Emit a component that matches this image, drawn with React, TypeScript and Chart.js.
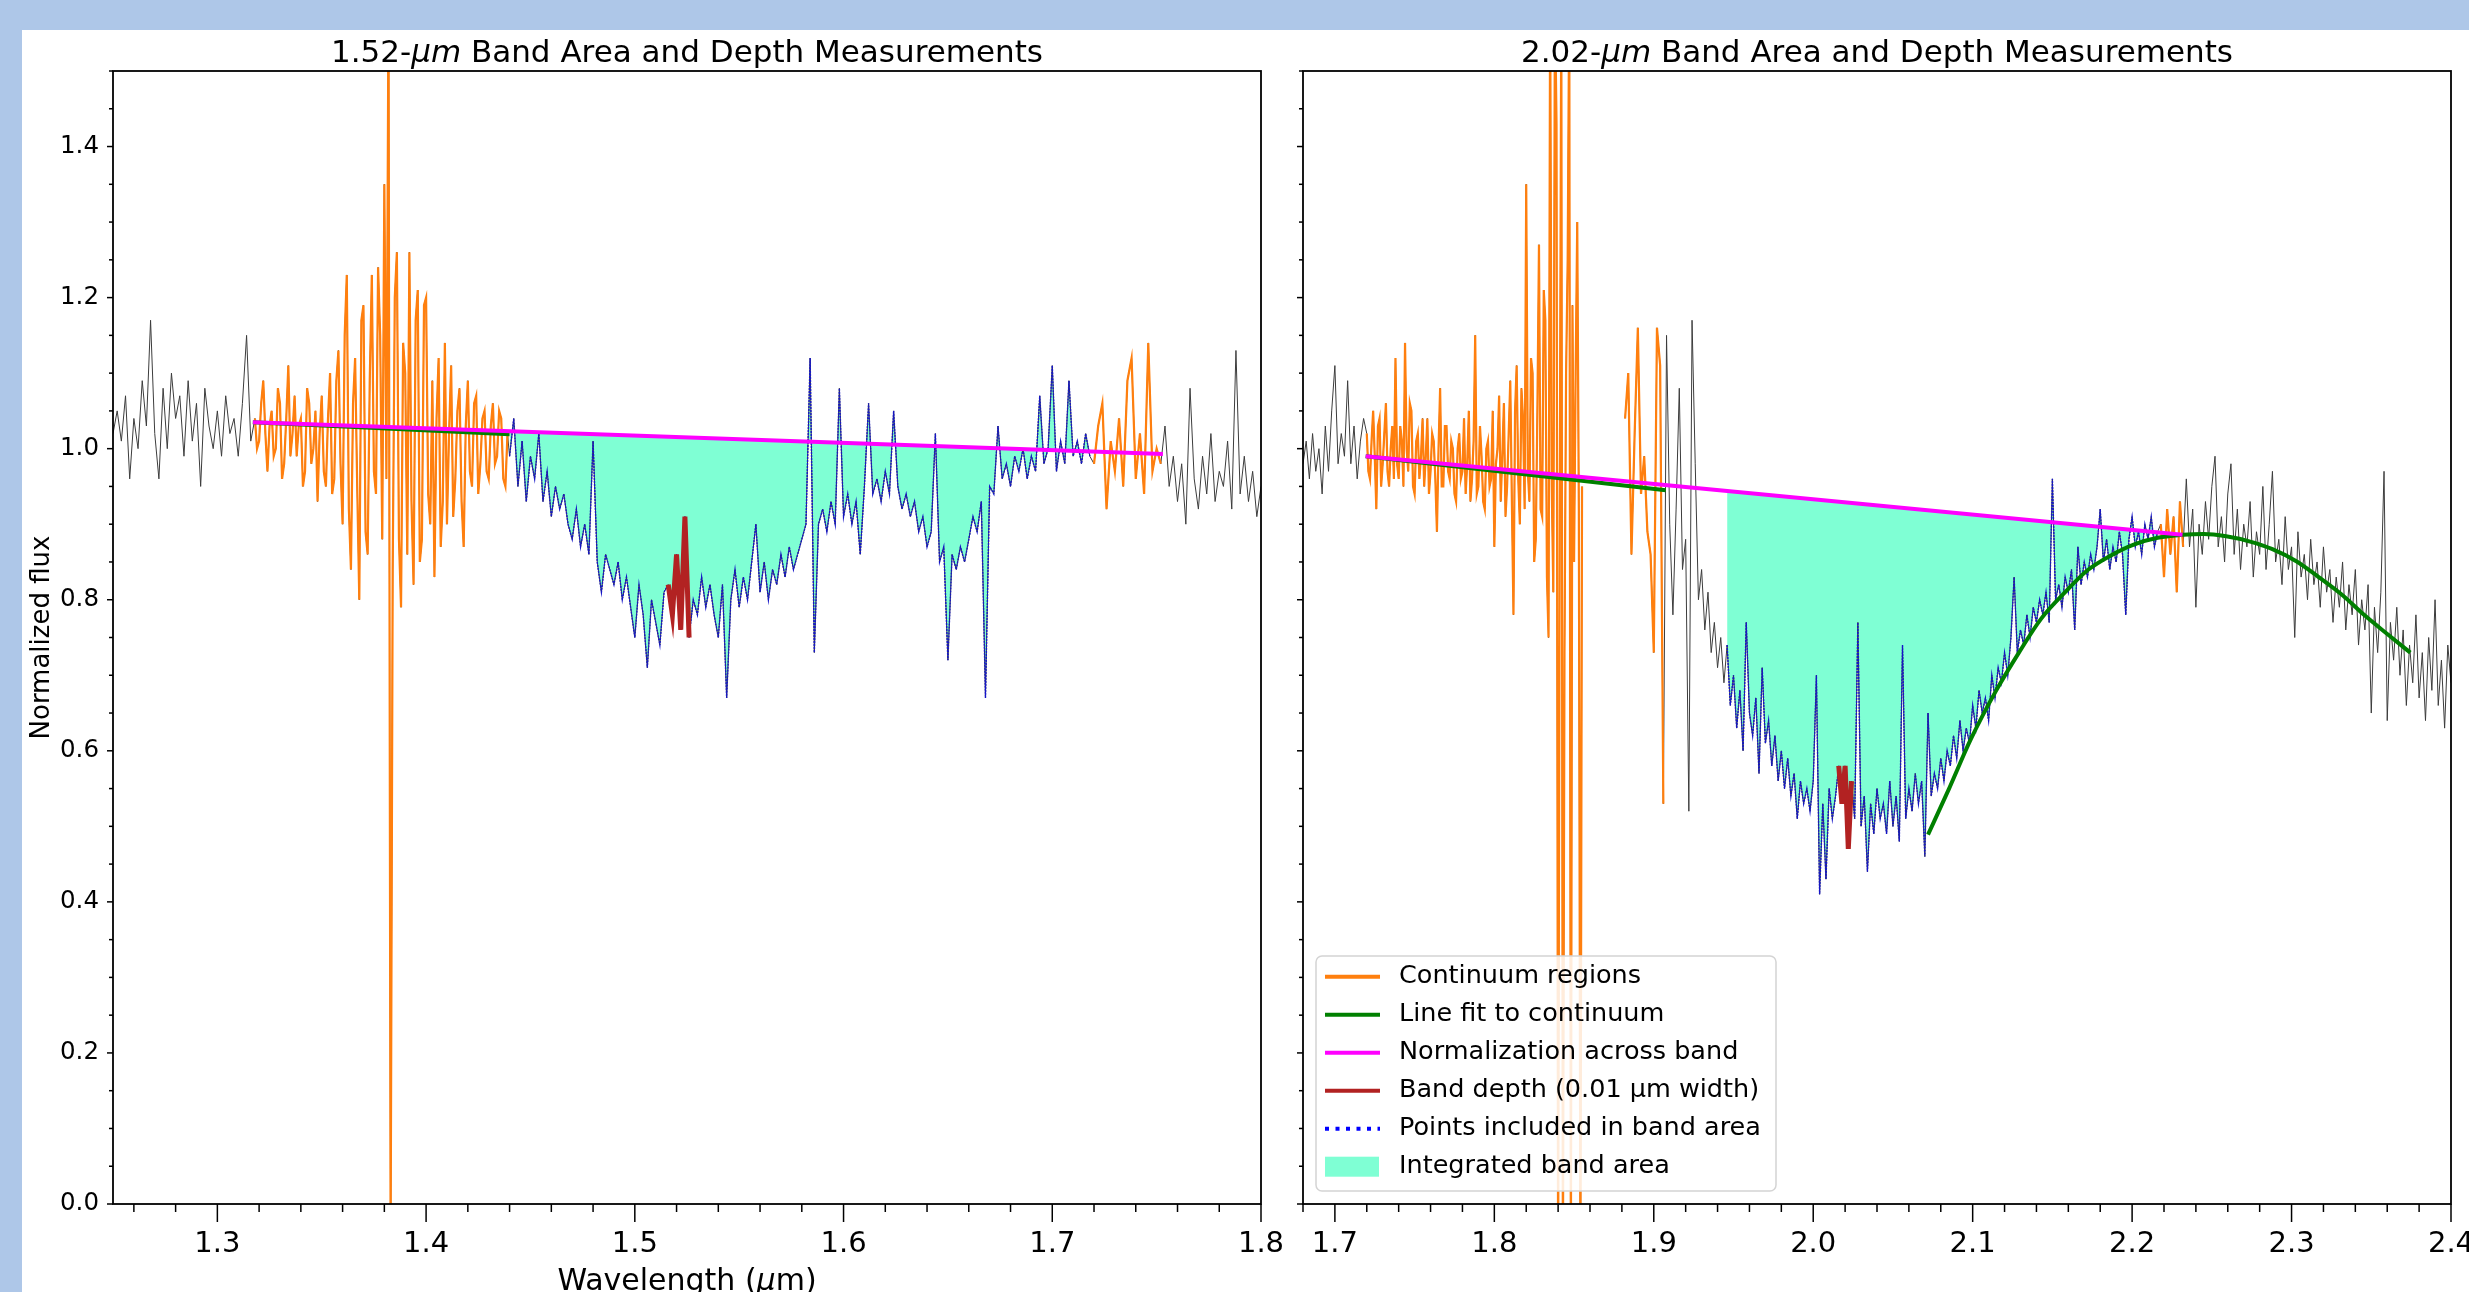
import React, { useEffect, useRef } from 'react';
import { Chart, registerables } from 'chart.js';

Chart.register(...registerables);

const FONT = '"DejaVu Sans", "Liberation Sans", sans-serif';
const STEP = 0.002;
const FINE = 0.001;
const Y_MIN = 0;
const Y_MAX = 1.5;

// ---------------- Left panel: 1.52-um band ----------------
const leftXMin = 1.25;
const leftXMax = 1.8;
const leftXTicks = [1.3, 1.4, 1.5, 1.6, 1.7, 1.8];
const leftTitle = ['1.52-', 'μm', ' Band Area and Depth Measurements'];

const leftGrayAStart = 1.25;
const leftGrayA = [
  1.02, 1.05, 1.01, 1.07, 0.96, 1.04, 1.0, 1.09, 1.03, 1.17,
  1.02, 0.96, 1.08, 1.0, 1.1, 1.04, 1.07, 0.99, 1.09, 1.01,
  1.06, 0.95, 1.08, 1.03, 1.0, 1.05, 0.99, 1.07, 1.02, 1.04,
  0.99, 1.06, 1.15, 1.01,
];
// sampled every 0.001 um
const leftContAStart = 1.318;
const leftContA = [
  1.04, 1.0, 1.01, 1.06, 1.09, 1.02, 0.97, 1.03, 1.05, 0.99,
  1.0, 1.08, 1.06, 0.96, 0.98, 1.04, 1.11, 0.99, 1.02, 1.07,
  0.99, 1.03, 1.04, 0.95, 0.97, 1.08, 1.06, 0.98, 1.0, 1.05,
  0.93, 1.02, 1.07, 0.97, 0.95, 1.04, 1.1, 0.94, 0.96, 1.09,
  1.13, 0.98, 0.9, 1.15, 1.23, 0.92, 0.84, 1.06, 1.12, 0.95,
  0.8, 1.17, 1.19, 0.89, 0.86, 1.09, 1.23, 0.97, 0.94, 1.24,
  1.15, 0.88, 1.35, 0.96, 1.6, -0.05, 0.84, 1.2, 1.26, 0.88,
  0.79, 1.14, 1.1, 0.86, 1.26, 0.93, 0.82, 1.17, 1.21, 0.85,
  0.88, 1.19, 1.2, 0.94, 0.9, 1.09, 0.83, 1.04, 1.12, 0.87,
  0.93, 1.14, 0.9, 1.02, 1.11, 0.91, 0.96, 1.05, 1.08, 0.93,
  0.87, 1.03, 1.09, 0.97, 0.95, 1.06, 1.07, 0.94, 0.98, 1.04,
  1.05, 0.97, 0.96, 1.03, 1.06, 0.98, 0.99, 1.05, 1.04, 0.96,
  0.95, 1.02,
];
const leftBandStart = 1.44;
const leftBand = [
  0.99, 1.04, 0.95, 1.01, 0.93, 0.99, 0.96, 1.02, 0.93, 0.97,
  0.91, 0.95, 0.92, 0.94, 0.9, 0.88, 0.92, 0.87, 0.9, 0.86,
  1.01, 0.85, 0.81, 0.86, 0.84, 0.82, 0.85, 0.8, 0.83, 0.79,
  0.75, 0.82, 0.78, 0.71, 0.8, 0.77, 0.74, 0.81, 0.82, 0.78,
  0.86, 0.76, 0.91, 0.75, 0.8, 0.78, 0.83, 0.79, 0.82, 0.78,
  0.75, 0.82, 0.67, 0.8, 0.84, 0.79, 0.83, 0.8, 0.85, 0.9,
  0.81, 0.85, 0.8, 0.84, 0.82, 0.86, 0.83, 0.87, 0.84, 0.86,
  0.88, 0.9, 1.12, 0.73, 0.9, 0.92, 0.89, 0.93, 0.9, 1.08,
  0.91, 0.94, 0.9, 0.93, 0.86, 0.95, 1.06, 0.94, 0.96, 0.93,
  0.97, 0.94, 1.05, 0.95, 0.92, 0.94, 0.91, 0.93, 0.89, 0.91,
  0.87, 0.89, 1.02, 0.85, 0.87, 0.72, 0.86, 0.84, 0.87, 0.85,
  0.88, 0.91, 0.89, 0.93, 0.67, 0.95, 0.94, 1.03, 0.96, 0.98,
  0.95, 0.99, 0.97, 1.0, 0.96, 0.99, 0.97, 1.07, 0.98, 1.0,
  1.11, 0.97, 1.01, 0.98, 1.09, 0.99, 1.01, 0.98, 1.02, 0.99,
];
const leftContBStart = 1.72;
const leftContB = [0.98, 1.03, 1.06, 0.92, 1.01, 0.97, 1.04, 0.95, 1.09, 1.12, 0.96, 1.02, 0.94, 1.14, 0.97, 1.0, 0.98];
const leftGrayBStart = 1.754;
const leftGrayB = [
  1.03, 0.95, 0.99, 0.93, 0.98, 0.9, 1.08, 0.96, 0.92, 0.99,
  0.94, 1.02, 0.93, 0.97, 0.95, 1.01, 0.92, 1.13, 0.94, 0.99,
  0.93, 0.97, 0.91, 0.95,
];
const leftDepthRange = [1.515, 1.527];
const leftNormX = [1.317, 1.753];
const leftNormY = [1.035, 0.993];
const leftFitX = [1.317, 1.44];
const leftFitY = [1.035, 1.019];

// ---------------- Right panel: 2.02-um band ----------------
const rightXMin = 1.68;
const rightXMax = 2.4;
const rightXTicks = [1.7, 1.8, 1.9, 2.0, 2.1, 2.2, 2.3, 2.4];
const rightTitle = ['2.02-', 'μm', ' Band Area and Depth Measurements'];

const rightGrayAStart = 1.68;
const rightGrayA = [0.98, 1.01, 0.96, 1.02, 0.97, 1.0, 0.94, 1.03, 0.97, 1.05, 1.11, 0.98, 1.02, 0.99, 1.09, 0.98, 1.03, 0.96, 1.01, 1.04];
// sampled every 0.001 um
const rightContAStart = 1.72;
const rightContA = [
  1.02, 0.97, 0.96, 1.01, 1.05, 0.99, 0.92, 1.03, 1.04, 0.95,
  0.98, 1.02, 1.06, 0.97, 0.95, 1.0, 1.03, 0.96, 1.12, 0.98,
  0.96, 1.03, 1.01, 0.95, 1.14, 1.0, 0.97, 1.06, 1.05, 0.95,
  0.94, 1.01, 1.02, 0.96, 0.99, 1.04, 0.95, 0.99, 1.04, 0.94,
  0.97, 1.02, 1.01, 0.96, 0.89, 1.0, 1.08, 0.95, 0.95, 1.03,
  1.03, 0.97, 0.96, 1.01, 1.0, 0.94, 0.93, 1.0, 1.02, 0.96,
  0.97, 1.04, 0.94, 0.98, 1.05, 0.93, 0.96, 1.01, 1.15, 0.94,
  0.95, 1.03, 0.99, 0.93, 0.92, 1.0, 1.01, 0.95, 0.96, 1.05,
  0.87, 0.98, 1.0, 1.07, 0.93, 0.99, 1.06, 0.91, 0.95, 1.02,
  1.09, 0.93, 0.78, 1.05, 1.11, 0.96, 0.9, 1.08, 1.04, 0.92,
  1.35, 0.97, 0.93, 1.12, 1.1, 0.85, 0.88, 1.05, 1.27, 0.92,
  0.91, 1.21, 1.17, 0.83, 0.75, 1.6, 0.95, 0.81, 1.6, 1.43,
  -0.1, 0.9, 1.6, -0.1, 0.73, 1.1, 1.25, 1.6, -0.1, 1.19,
  0.85, 1.1, 1.3, 0.92, -0.1, 0.95,
];
const rightGapX = 1.868;
const rightContBStart = 1.882;
const rightContB = [1.04, 1.1, 0.86, 1.02, 1.16, 0.94, 0.99, 0.89, 0.86, 0.73, 1.16, 1.11, 0.53];
const rightGrayBStart = 1.908;
const rightGrayB = [1.15, 0.9, 0.78, 0.92, 1.08, 0.84, 0.88, 0.52, 1.17, 0.98, 0.8, 0.84, 0.76, 0.81, 0.73, 0.77, 0.71, 0.75, 0.69];
const rightBandStart = 1.946;
const rightBand = [
  0.74, 0.66, 0.7, 0.63, 0.68, 0.6, 0.77, 0.65, 0.62, 0.67,
  0.57, 0.71, 0.61, 0.64, 0.58, 0.62, 0.56, 0.6, 0.55, 0.59,
  0.54, 0.57, 0.51, 0.56, 0.53, 0.55, 0.52, 0.56, 0.7, 0.41,
  0.53, 0.43, 0.55, 0.51, 0.54, 0.58, 0.53, 0.58, 0.47, 0.56,
  0.51, 0.77, 0.5, 0.54, 0.44, 0.53, 0.49, 0.55, 0.51, 0.53,
  0.49, 0.56, 0.5, 0.54, 0.48, 0.74, 0.51, 0.55, 0.52, 0.57,
  0.53, 0.56, 0.46, 0.65, 0.54, 0.57, 0.55, 0.59, 0.56, 0.6,
  0.58, 0.62, 0.59, 0.64, 0.6, 0.63, 0.61, 0.66, 0.63, 0.68,
  0.65, 0.67, 0.64, 0.7, 0.67, 0.71, 0.69, 0.73, 0.7, 0.75,
  0.83, 0.73, 0.76, 0.74, 0.78, 0.75, 0.79, 0.77, 0.8, 0.78,
  0.81, 0.77, 0.96, 0.8, 0.82, 0.79, 0.83, 0.81, 0.84, 0.76,
  0.87, 0.82, 0.85, 0.83, 0.86, 0.84, 0.87, 0.92, 0.85, 0.88,
  0.84, 0.87, 0.85, 0.89, 0.86, 0.78, 0.88, 0.91, 0.87, 0.89,
  0.86, 0.9, 0.88, 0.91, 0.87, 0.89,
];
const rightContCStart = 2.218;
const rightContC = [0.9, 0.83, 0.92, 0.86, 0.91, 0.81, 0.93, 0.87];
const rightGrayCStart = 2.234;
const rightGrayC = [
  0.96, 0.87, 0.92, 0.79, 0.9, 0.86, 0.93, 0.88, 0.95, 0.99,
  0.87, 0.91, 0.85, 0.94, 0.98, 0.86, 0.92, 0.84, 0.9, 0.87,
  0.93, 0.83, 0.89, 0.86, 0.95, 0.84, 0.9, 0.97, 0.85, 0.88,
  0.82, 0.91, 0.84, 0.87, 0.75, 0.89, 0.83, 0.86, 0.8, 0.88,
  0.82, 0.85, 0.79, 0.87, 0.81, 0.84, 0.77, 0.83, 0.79, 0.85,
  0.76, 0.82, 0.78, 0.84, 0.74, 0.8, 0.76, 0.82, 0.65, 0.79,
  0.73, 0.81, 0.97, 0.64, 0.77, 0.72, 0.79, 0.7, 0.76, 0.66,
  0.74, 0.69, 0.78, 0.67, 0.73, 0.64, 0.75, 0.68, 0.8, 0.66,
  0.72, 0.63, 0.74, 0.69,
];
const rightDepthRange = [2.015, 2.025];
const rightNormX = [1.7193, 2.2316];
const rightNormY = [0.99, 0.886];
const rightFitX = [1.7193, 1.9075];
const rightFitY = [0.99, 0.945];
const rightPolyX = [2.072, 2.085, 2.099, 2.114, 2.129, 2.143, 2.158, 2.172, 2.187, 2.201, 2.216, 2.232, 2.245, 2.259, 2.274, 2.288, 2.303, 2.317, 2.332, 2.346, 2.361, 2.3745];
const rightPolyY = [0.489, 0.549, 0.616, 0.677, 0.73, 0.775, 0.81, 0.839, 0.859, 0.873, 0.882, 0.886, 0.887, 0.884, 0.877, 0.867, 0.851, 0.83, 0.806, 0.779, 0.753, 0.73];

const yTicks = [0, 0.2, 0.4, 0.6, 0.8, 1.0, 1.2, 1.4];
const legendLabels = [
  'Continuum regions',
  'Line fit to continuum',
  'Normalization across band',
  'Band depth (0.01 μm width)',
  'Points included in band area',
  'Integrated band area',
];

// ---------------- Colours ----------------
const ORANGE = '#ff7f0e';
const GREEN = '#008000';
const MAGENTA = '#ff00ff';
const RED = '#b22222';
const BLUE = '#0000ff';
const BAND_BLUE = '#1515c8';
const AQUA = '#7fffd4';
const GRAY = '#3c3c3c';

type P = { x: number; y: number | null };
const pts = (start: number, ys: number[], step: number = STEP): P[] =>
  ys.map((y, i) => ({ x: Math.round((start + i * step) * 10000) / 10000, y }));
const pairs = (xs: number[], ys: number[]): P[] => xs.map((x, i) => ({ x, y: ys[i] }));
const within = (arr: P[], r: number[]) => arr.filter((p) => p.x >= r[0] && p.x <= r[1]);
const isIn = (list: number[], v: number) => list.some((m) => Math.abs(m - v) < 1e-6);

const lineDs = (data: P[], color: string, width: number, order: number, extra: any = {}) => ({
  type: 'line',
  data,
  borderColor: color,
  backgroundColor: color,
  borderWidth: width,
  pointRadius: 0,
  fill: false,
  order,
  ...extra,
});

const decor = (cfg: { title: string[]; xMajor: number[]; legend: boolean; xlabel: boolean; ylabel: boolean }) => ({
  id: 'decor',
  afterDraw(chart: any) {
    const { ctx, chartArea: a, scales } = chart;
    const xs = scales.x;
    const ys = scales.y;
    ctx.save();
    ctx.setLineDash([]);
    ctx.strokeStyle = '#000';
    ctx.lineWidth = 1.5;
    for (const t of xs.ticks) {
      const v = t.value;
      if (v < xs.min - 1e-9 || v > xs.max + 1e-9) continue;
      const major = isIn(cfg.xMajor, v);
      const px = xs.getPixelForValue(v);
      ctx.beginPath();
      ctx.moveTo(px, a.bottom);
      ctx.lineTo(px, a.bottom + (major ? 18 : 8));
      ctx.stroke();
    }
    for (const t of ys.ticks) {
      const v = t.value;
      if (v < ys.min - 1e-9 || v > ys.max + 1e-9) continue;
      const major = isIn(yTicks, v);
      const py = ys.getPixelForValue(v);
      ctx.beginPath();
      ctx.moveTo(a.left - (major ? 6 : 4), py);
      ctx.lineTo(a.left, py);
      ctx.stroke();
    }
    ctx.lineWidth = 1.8;
    ctx.strokeRect(a.left, a.top, a.right - a.left, a.bottom - a.top);

    // panel title with italic unit
    ctx.fillStyle = '#000';
    ctx.textBaseline = 'alphabetic';
    ctx.textAlign = 'left';
    const normal = `31px ${FONT}`;
    const ital = `italic 31px ${FONT}`;
    ctx.font = normal;
    const w1 = ctx.measureText(cfg.title[0]).width;
    const w3 = ctx.measureText(cfg.title[2]).width;
    ctx.font = ital;
    const w2 = ctx.measureText(cfg.title[1]).width;
    let x = (a.left + a.right) / 2 - (w1 + w2 + w3) / 2;
    const ty = 32;
    ctx.font = normal;
    ctx.fillText(cfg.title[0], x, ty);
    x += w1;
    ctx.font = ital;
    ctx.fillText(cfg.title[1], x, ty);
    x += w2;
    ctx.font = normal;
    ctx.fillText(cfg.title[2], x, ty);

    if (cfg.xlabel) {
      const lf = `30px ${FONT}`;
      const li = `italic 30px ${FONT}`;
      const parts = ['Wavelength (', 'μ', 'm)'];
      const fonts = [lf, li, lf];
      const ws = parts.map((p, i) => { ctx.font = fonts[i]; return ctx.measureText(p).width; });
      let lx = (a.left + a.right) / 2 - (ws[0] + ws[1] + ws[2]) / 2;
      parts.forEach((p, i) => { ctx.font = fonts[i]; ctx.fillText(p, lx, 1260); lx += ws[i]; });
    }
    if (cfg.ylabel) {
      ctx.save();
      ctx.translate(27, (a.top + a.bottom) / 2);
      ctx.rotate(-Math.PI / 2);
      ctx.textAlign = 'center';
      ctx.font = `26px ${FONT}`;
      ctx.fillText('Normalized flux', 0, 0);
      ctx.restore();
    }
    if (cfg.legend) {
      const bx = 26, by = 926, bw = 460, bh = 235, r = 6;
      ctx.beginPath();
      ctx.moveTo(bx + r, by);
      ctx.arcTo(bx + bw, by, bx + bw, by + bh, r);
      ctx.arcTo(bx + bw, by + bh, bx, by + bh, r);
      ctx.arcTo(bx, by + bh, bx, by, r);
      ctx.arcTo(bx, by, bx + bw, by, r);
      ctx.closePath();
      ctx.fillStyle = 'rgba(255,255,255,0.85)';
      ctx.fill();
      ctx.strokeStyle = '#d4d4d4';
      ctx.lineWidth = 1.5;
      ctx.stroke();
      const handles = [ORANGE, GREEN, MAGENTA, RED, BLUE, AQUA];
      legendLabels.forEach((lab, k) => {
        const cy = 946.7 + 38 * k;
        if (k === 5) {
          ctx.fillStyle = AQUA;
          ctx.fillRect(35, cy - 10, 54, 20);
        } else {
          ctx.strokeStyle = handles[k];
          ctx.lineWidth = 4;
          ctx.setLineDash(k === 4 ? [4, 6.5] : []);
          ctx.beginPath();
          ctx.moveTo(35, cy);
          ctx.lineTo(90, cy);
          ctx.stroke();
          ctx.setLineDash([]);
        }
        ctx.fillStyle = '#000';
        ctx.font = `25.5px ${FONT}`;
        ctx.textBaseline = 'middle';
        ctx.textAlign = 'left';
        ctx.fillText(lab, 109, cy);
      });
    }
    ctx.restore();
  },
});

const makeOptions = (xmin: number, xmax: number, xMajor: number[], showY: boolean, padRight: number, yWidth: number) => ({
  responsive: false,
  animation: false,
  devicePixelRatio: 1,
  layout: { padding: { top: 41, right: padRight, bottom: 0, left: 0 } },
  plugins: {
    legend: { display: false },
    tooltip: { enabled: false },
    title: { display: false },
    filler: { propagate: false, drawTime: 'beforeDatasetsDraw' },
  },
  elements: { point: { radius: 0 }, line: { tension: 0 } },
  scales: {
    x: {
      type: 'linear',
      min: xmin,
      max: xmax,
      grid: { display: false, drawTicks: false },
      border: { display: false },
      ticks: {
        stepSize: 0.02,
        includeBounds: false,
        autoSkip: false,
        maxRotation: 0,
        minRotation: 0,
        padding: 23,
        color: '#000',
        font: { size: 29, family: FONT },
        callback: (v: number) => (isIn(xMajor, v) ? v.toFixed(1) : ''),
      },
      afterFit: (s: any) => {
        s.height = 88;
        s.paddingLeft = 0;
        s.paddingRight = 0;
      },
    },
    y: {
      type: 'linear',
      min: Y_MIN,
      max: Y_MAX,
      grid: { display: false, drawTicks: false },
      border: { display: false },
      ticks: {
        stepSize: 0.05,
        includeBounds: false,
        autoSkip: false,
        display: showY,
        padding: 14,
        color: '#000',
        font: { size: 24.5, family: FONT },
        callback: (v: number) => (isIn(yTicks, v) ? v.toFixed(1) : ''),
      },
      afterFit: (s: any) => {
        s.width = yWidth;
        s.paddingTop = 0;
        s.paddingBottom = 0;
      },
    },
  },
});

export default function App() {
  const leftRef = useRef<HTMLCanvasElement | null>(null);
  const rightRef = useRef<HTMLCanvasElement | null>(null);

  useEffect(() => {
    Chart.defaults.font.family = FONT;
    // ----- left chart -----
    const lGrayA = pts(leftGrayAStart, leftGrayA);
    const lContA = pts(leftContAStart, leftContA, FINE);
    const lBand = pts(leftBandStart, leftBand);
    const lContB = pts(leftContBStart, leftContB);
    const lGrayB = pts(leftGrayBStart, leftGrayB);
    const lAll = [...lGrayA, ...lContA, ...lBand, ...lContB, ...lGrayB];
    const leftDatasets: any[] = [
      lineDs(lAll, GRAY, 1, 6),
      lineDs(lContA, ORANGE, 2.2, 4),
      lineDs(lContB, ORANGE, 2.2, 4),
      lineDs(lBand, BAND_BLUE, 1.4, 5, {
        borderDash: [2, 1],
        backgroundColor: AQUA,
        fill: { target: 5, above: AQUA, below: AQUA },
      }),
      lineDs(pairs(leftFitX, leftFitY), GREEN, 4, 3),
      lineDs(pairs(leftNormX, leftNormY), MAGENTA, 4, 2),
      lineDs(within(lBand, leftDepthRange), RED, 5, 1),
    ];
    const leftChart = new Chart(leftRef.current as HTMLCanvasElement, {
      type: 'line',
      data: { datasets: leftDatasets },
      options: makeOptions(leftXMin, leftXMax, leftXTicks, true, 29, 91) as any,
      plugins: [decor({ title: leftTitle, xMajor: leftXTicks, legend: false, xlabel: true, ylabel: true })],
    } as any);

    // ----- right chart -----
    const rGrayA = pts(rightGrayAStart, rightGrayA);
    const rContA = pts(rightContAStart, rightContA, FINE);
    const rContB = pts(rightContBStart, rightContB);
    const rGrayB = pts(rightGrayBStart, rightGrayB);
    const rBand = pts(rightBandStart, rightBand);
    const rContC = pts(rightContCStart, rightContC);
    const rGrayC = pts(rightGrayCStart, rightGrayC);
    const rAll = [...rGrayA, ...rContA, { x: rightGapX, y: null }, ...rContB, ...rGrayB, ...rBand, ...rContC, ...rGrayC];
    const rightDatasets: any[] = [
      lineDs(rAll, GRAY, 1, 6),
      lineDs(rContA, ORANGE, 2.2, 4),
      lineDs(rContB, ORANGE, 2.2, 4),
      lineDs(rContC, ORANGE, 2.2, 4),
      lineDs(rBand, BAND_BLUE, 1.4, 5, {
        borderDash: [2, 1],
        backgroundColor: AQUA,
        fill: { target: 7, above: AQUA, below: AQUA },
      }),
      lineDs(pairs(rightFitX, rightFitY), GREEN, 4, 3),
      lineDs(pairs(rightPolyX, rightPolyY), GREEN, 4, 3, { cubicInterpolationMode: 'monotone' }),
      lineDs(pairs(rightNormX, rightNormY), MAGENTA, 4, 2),
      lineDs(within(rBand, rightDepthRange), RED, 5, 1),
    ];
    const rightChart = new Chart(rightRef.current as HTMLCanvasElement, {
      type: 'line',
      data: { datasets: rightDatasets },
      options: makeOptions(rightXMin, rightXMax, rightXTicks, false, 18, 13) as any,
      plugins: [decor({ title: rightTitle, xMajor: rightXTicks, legend: true, xlabel: false, ylabel: false })],
    } as any);

    return () => {
      leftChart.destroy();
      rightChart.destroy();
    };
  }, []);

  return (
    <div style={{ position: 'fixed', left: 0, top: 0, width: 2469, height: 1292, background: '#aec7e8', overflow: 'hidden' }}>
      <div style={{ position: 'absolute', left: 22, top: 30, width: 2447, height: 1262, background: '#ffffff' }} />
      <canvas
        ref={leftRef}
        width={1268}
        height={1262}
        style={{ position: 'absolute', left: 22, top: 30, width: 1268, height: 1262 }}
      />
      <canvas
        ref={rightRef}
        width={1179}
        height={1262}
        style={{ position: 'absolute', left: 1290, top: 30, width: 1179, height: 1262 }}
      />
    </div>
  );
}
